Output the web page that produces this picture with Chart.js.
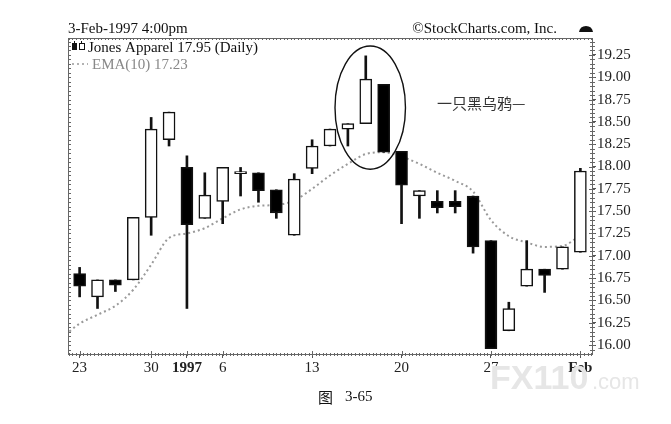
<!DOCTYPE html>
<html>
<head>
<meta charset="utf-8">
<script src="https://cdn.jsdelivr.net/npm/chart.js@4.4.1/dist/chart.umd.min.js"></script>
<style>
  html, body { margin: 0; padding: 0; background: #fff; }
</style>
</head>
<body>
<canvas id="chart" width="671" height="424"></canvas>
<script>
// Jones Apparel, daily, 23-Dec-1996 .. 3-Feb-1997
const days = ['12-23','12-24','12-26','12-27','12-30','12-31','01-02','01-03','01-06','01-07',
              '01-08','01-09','01-10','01-13','01-14','01-15','01-16','01-17','01-20','01-21',
              '01-22','01-23','01-24','01-27','01-28','01-29','01-30','01-31','02-03'];
const opens  = [16.80,16.54,16.73,16.73,17.43,18.30,17.99,17.42,17.61,17.92,
                17.93,17.74,17.23,17.98,18.23,18.42,18.48,18.92,18.17,17.67,
                17.61,17.61,17.67,17.17,16.16,16.66,16.85,16.85,17.04];
const highs  = [16.87,16.73,16.73,17.43,18.55,18.61,18.12,17.93,17.99,17.99,
                17.93,17.74,17.92,18.30,18.42,18.48,19.24,18.92,18.17,17.73,
                17.73,17.73,17.67,17.17,16.48,17.17,16.85,17.10,17.98];
const lows   = [16.54,16.41,16.60,16.73,17.23,18.23,16.41,17.42,17.36,17.67,
                17.60,17.42,17.23,17.92,18.23,18.23,18.48,18.16,17.36,17.42,
                17.48,17.48,17.03,15.96,16.16,16.66,16.59,16.85,17.04];
const closes = [16.66,16.73,16.67,17.43,18.42,18.61,17.35,17.68,17.99,17.92,
                17.73,17.48,17.86,18.23,18.42,18.48,18.98,18.16,17.79,17.73,
                17.54,17.55,17.10,15.96,16.41,16.85,16.78,17.10,17.95];
// EMA(10), first value is the session before 23-Dec (clipped at the left edge)
const emaDays = [-1,0,1,2,3,4,5,6,7,8,9,10,11,12,13,14,15,16,17,18,19,20,21,22,23,24,25,26,27,28];
const ema10  = [16.08,16.24,16.34,16.44,16.62,16.90,17.20,17.25,17.31,17.42,17.52,
                17.56,17.57,17.62,17.75,17.90,18.03,18.14,18.16,18.11,18.03,
                17.93,17.84,17.72,17.40,17.22,17.15,17.10,17.11,17.23];

const xTickPos  = [0, 4, 6, 8, 13, 18, 23, 28];
const xTickText = ['23', '30', '1997', '6', '13', '20', '27', 'Feb'];
const xTickBold = [6, 28];
const yTicks = [16.00,16.25,16.50,16.75,17.00,17.25,17.50,17.75,18.00,18.25,18.50,18.75,19.00,19.25];

const serif = "'Liberation Serif', 'DejaVu Serif', serif";
const isDown = i => closes[i] < opens[i];

const bodies = days.map((d, i) => ({ x: i, y: [opens[i], closes[i]] }));
const wicks  = days.map((d, i) => ({ x: i, y: [lows[i], highs[i]] }));
const emaPts = emaDays.map((d, i) => ({ x: d, y: ema10[i] }));

const extras = {
  id: 'extras',
  afterDraw(chart) {
    const ctx = chart.ctx;
    const a = chart.chartArea;
    const xs = chart.scales.x, ys = chart.scales.y;
    ctx.save();

    // frame
    ctx.strokeStyle = '#666';
    ctx.lineWidth = 1;
    ctx.strokeRect(a.left + 0.5, a.top + 0.5, a.right - a.left, a.bottom - a.top);

    // minor ticks
    ctx.beginPath();
    for (let v = 15.95; v < 19.44; v += 0.05) {
      const y = Math.round(ys.getPixelForValue(v)) + 0.5;
      ctx.moveTo(a.right - 2, y); ctx.lineTo(a.right + 3, y);
      ctx.moveTo(a.left, y); ctx.lineTo(a.left + 3, y);
    }
    for (let v = -0.6; v < 28.65; v += 0.2) {
      const x = Math.round(xs.getPixelForValue(v)) + 0.5;
      ctx.moveTo(x, a.bottom - 1); ctx.lineTo(x, a.bottom + 2);
      ctx.moveTo(x, a.top); ctx.lineTo(x, a.top + 2);
    }
    ctx.stroke();
    ctx.beginPath();
    yTicks.forEach(v => {
      const y = Math.round(ys.getPixelForValue(v)) + 0.5;
      ctx.moveTo(a.right - 3, y); ctx.lineTo(a.right, y);
    });
    xTickPos.forEach(v => {
      const x = Math.round(xs.getPixelForValue(v)) + 0.5;
      ctx.moveTo(x, a.bottom - 3); ctx.lineTo(x, a.bottom);
    });
    ctx.stroke();

    // header
    ctx.fillStyle = '#111';
    ctx.font = '15px ' + serif;
    ctx.textBaseline = 'alphabetic';
    ctx.textAlign = 'left';
    ctx.fillText('3-Feb-1997 4:00pm', a.left, 33);
    ctx.textAlign = 'right';
    ctx.fillText('\u00A9StockCharts.com, Inc.', 557, 33);
    // little dome icon
    ctx.beginPath();
    ctx.moveTo(579, 32);
    ctx.quadraticCurveTo(580, 26, 586, 26);
    ctx.quadraticCurveTo(592, 26, 593, 32);
    ctx.closePath();
    ctx.fill();

    // legend
    ctx.textAlign = 'left';
    ctx.fillRect(72, 43, 5, 7);
    ctx.fillRect(74, 41, 1, 2);
    ctx.strokeStyle = '#111';
    ctx.strokeRect(79.5, 43.5, 5, 6);
    ctx.fillRect(81, 41, 1, 2);
    ctx.fillText('Jones Apparel 17.95 (Daily)', 88, 52);
    ctx.fillStyle = '#888';
    ctx.fillText('EMA(10) 17.23', 92, 69);
    ctx.strokeStyle = '#999';
    ctx.lineWidth = 1.5;
    ctx.setLineDash([2, 3]);
    ctx.beginPath();
    ctx.moveTo(72, 64); ctx.lineTo(88, 64);
    ctx.stroke();
    ctx.setLineDash([]);

    // ellipse round the last two big candles
    const cx = xs.getPixelForValue(16.25), cy = ys.getPixelForValue(18.66);
    const rx = xs.getPixelForValue(18.22) - cx;
    const ry = cy - ys.getPixelForValue(19.35);
    ctx.strokeStyle = '#111';
    ctx.lineWidth = 1.4;
    ctx.beginPath();
    ctx.ellipse(cx, cy, rx, ry, 0, 0, Math.PI * 2);
    ctx.stroke();

    // annotation
    ctx.fillStyle = '#333';
    ctx.font = "15px 'Noto Sans CJK SC', sans-serif";
    ctx.textBaseline = 'middle';
    ctx.fillText('一只黑乌鸦—', 437, 103);

    // caption
    ctx.fillStyle = '#111';
    ctx.font = "15px 'Noto Sans CJK SC', serif";
    ctx.fillText('图', 318, 397);
    ctx.font = '15px ' + serif;
    ctx.fillText('3-65', 345, 397);

    // watermark
    ctx.fillStyle = '#e6e6e6';
    ctx.textBaseline = 'alphabetic';
    ctx.font = "bold 34px 'Liberation Sans', sans-serif";
    ctx.fillText('FX110', 490, 389);
    ctx.font = "22px 'Liberation Sans', sans-serif";
    ctx.fillText('.com', 592, 389);

    ctx.restore();
  }
};

new Chart(document.getElementById('chart'), {
  type: 'bar',
  data: {
    datasets: [
      {
        type: 'line',
        data: emaPts,
        borderColor: '#9a9a9a',
        borderWidth: 2,
        borderDash: [2, 3],
        pointRadius: 0,
        cubicInterpolationMode: 'monotone',
        order: 2
      },
      {
        data: wicks,
        backgroundColor: '#111',
        borderWidth: 0,
        barThickness: 2,
        grouped: false,
        order: 1
      },
      {
        data: bodies,
        backgroundColor: c => isDown(c.dataIndex) ? '#000' : '#fff',
        borderColor: '#111',
        borderWidth: 1.5,
        borderSkipped: false,
        barThickness: 12,
        minBarLength: 2,
        grouped: false,
        order: 0
      }
    ]
  },
  options: {
    responsive: false,
    animation: false,
    layout: { padding: { left: 68, top: 38, right: 0, bottom: 0 } },
    plugins: { legend: { display: false }, tooltip: { enabled: false } },
    scales: {
      x: {
        type: 'linear',
        min: -0.65,
        max: 28.65,
        offset: false,
        afterBuildTicks: s => { s.ticks = xTickPos.map(v => ({ value: v })); },
        afterFit: s => { s.height = 70; },
        ticks: {
          autoSkip: false,
          maxRotation: 0,
          padding: 1,
          color: '#222',
          callback: v => xTickText[xTickPos.indexOf(v)],
          font: c => ({ family: serif, size: 15, weight: (c.tick && xTickBold.includes(c.tick.value)) ? 'bold' : 'normal' })
        },
        grid: { drawOnChartArea: false, tickLength: 4, color: '#555', offset: false },
        border: { display: false }
      },
      y: {
        position: 'right',
        min: 15.90,
        max: 19.44,
        afterBuildTicks: s => { s.ticks = yTicks.map(v => ({ value: v })); },
        afterFit: s => { s.width = 79; },
        ticks: {
          padding: 1,
          color: '#222',
          font: { family: serif, size: 15 },
          callback: v => v.toFixed(2)
        },
        grid: { drawOnChartArea: false, tickLength: 4, color: '#555' },
        border: { display: false }
      }
    }
  },
  plugins: [extras]
});
</script>
</body>
</html>
